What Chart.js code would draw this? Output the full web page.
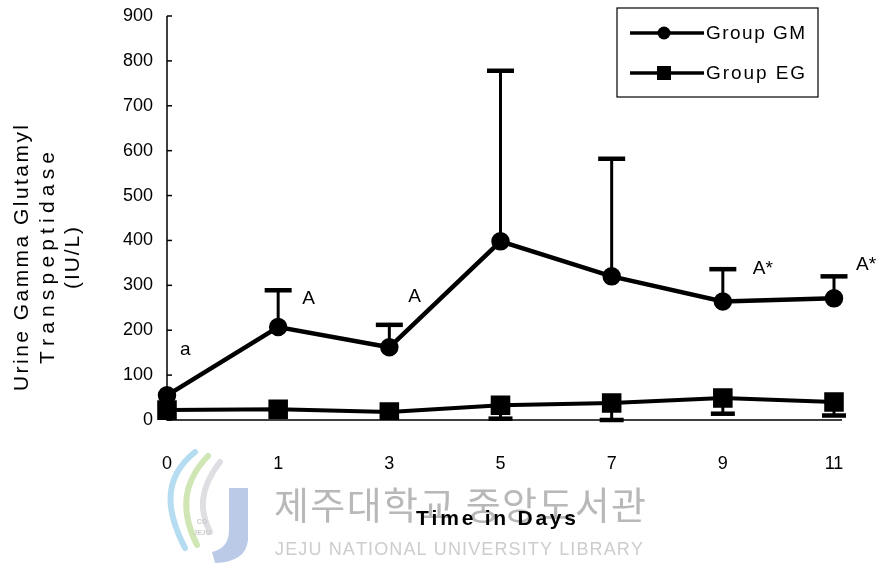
<!DOCTYPE html>
<html>
<head>
<meta charset="utf-8">
<script src="https://cdn.jsdelivr.net/npm/chart.js@4.4.1/dist/chart.umd.min.js"></script>
<style>
  html, body { margin: 0; padding: 0; background: #fff; }
  #wrap { width: 886px; height: 565px; position: relative; }
</style>
</head>
<body>
<div id="wrap"><canvas id="ggtChart"></canvas></div>
<script>
// 資料
const days = ['0', '1', '3', '5', '7', '9', '11'];
const gmMean = [55, 207, 162, 398, 320, 264, 271];
const gmUpper = [null, 289, 212, 778, 582, 336, 320];
const egMean = [22, 24, 18, 33, 38, 49, 40];
const egLower = [null, null, null, 3, 0, 14, 10];
const yTicks = [0, 100, 200, 300, 400, 500, 600, 700, 800, 900];
const sigMarks = ['a', 'A', 'A', '', '', 'A*', 'A*'];

// 標記文字相對於資料點的位移 (px)
const sigOffsets = [[13, -46], [24, 8], [19, -28], [0, 0], [0, 0], [30, 0], [22, -12]];

const FONT = '"Liberation Sans", Arial, sans-serif';

// 逐字繪製，讓文字填滿指定寬度
function spacedText(ctx, text, x, y, width) {
    const chars = text.split('');
    const natural = chars.reduce((s, c) => s + ctx.measureText(c).width, 0);
    const gap = chars.length > 1 ? (width - natural) / (chars.length - 1) : 0;
    let cx = x - width / 2;
    ctx.textAlign = 'left';
    chars.forEach(c => {
        ctx.fillText(c, cx, y);
        cx += ctx.measureText(c).width + gap;
    });
}

// 浮水印
function drawWatermark(ctx) {
    ctx.save();
    // 標誌的曲線
    ctx.lineCap = 'round';
    ctx.lineWidth = 6;
    ctx.strokeStyle = 'rgba(150,205,235,0.7)';
    ctx.beginPath();
    ctx.moveTo(195, 452); ctx.bezierCurveTo(160, 480, 168, 515, 185, 548);
    ctx.stroke();
    ctx.strokeStyle = 'rgba(190,220,150,0.7)';
    ctx.beginPath();
    ctx.moveTo(208, 456); ctx.bezierCurveTo(180, 485, 182, 515, 197, 545);
    ctx.stroke();
    ctx.strokeStyle = 'rgba(215,215,220,0.8)';
    ctx.beginPath();
    ctx.moveTo(220, 462); ctx.bezierCurveTo(198, 490, 200, 512, 210, 532);
    ctx.stroke();
    // J 字
    ctx.fillStyle = 'rgba(170,190,225,0.8)';
    ctx.beginPath();
    ctx.moveTo(229, 488); ctx.lineTo(248, 488); ctx.lineTo(248, 540);
    ctx.quadraticCurveTo(246, 562, 215, 563); ctx.lineTo(212, 552);
    ctx.quadraticCurveTo(229, 548, 229, 530);
    ctx.closePath();
    ctx.fill();
    ctx.fillStyle = 'rgba(200,200,200,0.9)';
    ctx.font = 'bold 7px ' + FONT;
    ctx.textAlign = 'center';
    ctx.fillText('CO', 202, 524);
    ctx.fillText('JEJU', 202, 535);

    ctx.fillStyle = '#b8b8b8';
    ctx.font = '38px "Noto Sans CJK KR", sans-serif';
    ctx.textBaseline = 'middle';
    spacedText(ctx, '제주대학교 중앙도서관', 460, 505, 372);
    ctx.fillStyle = '#cdcdcd';
    ctx.font = '18px ' + FONT;
    spacedText(ctx, 'JEJU NATIONAL UNIVERSITY LIBRARY', 459, 550, 368);
    ctx.restore();
}

const extrasPlugin = {
    id: 'extras',
    beforeDraw(chart) {
        const ctx = chart.ctx;
        ctx.save();
        ctx.fillStyle = '#fff';
        ctx.fillRect(0, 0, chart.width, chart.height);
        ctx.restore();
        drawWatermark(ctx);
    },
    beforeDatasetsDraw(chart) {
        const ctx = chart.ctx;
        const x = chart.scales.x, y = chart.scales.y;
        ctx.save();
        ctx.strokeStyle = '#000';
        ctx.lineCap = 'butt';
        const bar = (i, from, to, capW) => {
            const px = x.getPixelForValue(i);
            ctx.lineWidth = 3;
            ctx.beginPath();
            ctx.moveTo(px, y.getPixelForValue(from));
            ctx.lineTo(px, y.getPixelForValue(to));
            ctx.stroke();
            ctx.lineWidth = 4.5;
            ctx.beginPath();
            ctx.moveTo(px - capW / 2, y.getPixelForValue(to));
            ctx.lineTo(px + capW / 2, y.getPixelForValue(to));
            ctx.stroke();
        };
        gmUpper.forEach((v, i) => { if (v !== null) bar(i, gmMean[i], v, 27); });
        egLower.forEach((v, i) => { if (v !== null) bar(i, egMean[i], v, 24); });
        ctx.restore();
    },
    afterDraw(chart) {
        const ctx = chart.ctx;
        const x = chart.scales.x, y = chart.scales.y;
        const area = chart.chartArea;
        ctx.save();
        ctx.fillStyle = '#000';
        ctx.strokeStyle = '#000';

        // 座標軸
        ctx.lineWidth = 1.5;
        ctx.beginPath();
        ctx.moveTo(area.left, area.top);
        ctx.lineTo(area.left, area.bottom);
        ctx.lineTo(area.right + 8, area.bottom);
        ctx.stroke();
        yTicks.forEach(t => {
            const py = y.getPixelForValue(t);
            ctx.beginPath();
            ctx.moveTo(area.left, py);
            ctx.lineTo(area.left + 5, py);
            ctx.stroke();
        });

        // 顯著性標記
        ctx.font = '19px ' + FONT;
        ctx.textBaseline = 'middle';
        ctx.textAlign = 'left';
        sigMarks.forEach((m, i) => {
            if (!m) return;
            const base = gmUpper[i] !== null ? gmUpper[i] : gmMean[i];
            const px = x.getPixelForValue(i) + sigOffsets[i][0];
            const py = y.getPixelForValue(base) + sigOffsets[i][1];
            ctx.fillText(m, px, py);
        });

        // Y 軸標題
        ctx.font = '21px ' + FONT;
        ctx.save();
        ctx.translate(0, 258);
        ctx.rotate(-Math.PI / 2);
        spacedText(ctx, 'Urine Gamma Glutamyl', 0, 22, 266);
        spacedText(ctx, 'Transpeptidase', 0, 48, 212);
        spacedText(ctx, '(IU/L)', 0, 73, 62);
        ctx.restore();

        // X 軸標題
        ctx.font = 'bold 21px ' + FONT;
        spacedText(ctx, 'Time in Days', 496, 519, 160);

        // 圖例
        const lx = 617, ly = 8, lw = 201, lh = 89;
        ctx.lineWidth = 1.2;
        ctx.strokeRect(lx, ly, lw, lh);
        const rows = [{ y: 33, label: 'Group GM', shape: 'circle' }, { y: 73, label: 'Group EG', shape: 'rect' }];
        rows.forEach(r => {
            ctx.lineWidth = 3.5;
            ctx.beginPath();
            ctx.moveTo(630, r.y);
            ctx.lineTo(704, r.y);
            ctx.stroke();
            ctx.beginPath();
            if (r.shape === 'circle') {
                ctx.arc(664, r.y, 6.5, 0, Math.PI * 2);
            } else {
                ctx.rect(657, r.y - 7, 14, 14);
            }
            ctx.fill();
            ctx.font = '19px ' + FONT;
            ctx.textBaseline = 'middle';
            const w = 99;
            spacedText(ctx, r.label, 706 + w / 2, r.y + 1, w);
        });
        ctx.restore();
    }
};

function initChart() {
    const ctx = document.getElementById('ggtChart').getContext('2d');
    new Chart(ctx, {
        type: 'line',
        data: {
            labels: days,
            datasets: [
                {
                    label: 'Group GM',
                    data: gmMean,
                    borderColor: '#000',
                    backgroundColor: '#000',
                    borderWidth: 4.5,
                    pointStyle: 'circle',
                    pointRadius: 7,
                    tension: 0
                },
                {
                    label: 'Group EG',
                    data: egMean,
                    borderColor: '#000',
                    backgroundColor: '#000',
                    borderWidth: 4,
                    pointStyle: 'rect',
                    pointRadius: 11,
                    tension: 0
                }
            ]
        },
        options: {
            responsive: true,
            maintainAspectRatio: false,
            animation: false,
            layout: { padding: { top: 16, right: 52, left: 0, bottom: 0 } },
            plugins: {
                legend: { display: false },
                tooltip: { enabled: false }
            },
            scales: {
                x: {
                    type: 'category',
                    offset: false,
                    grid: { display: false, drawTicks: false },
                    border: { display: false },
                    ticks: {
                        color: '#000',
                        font: { family: FONT, size: 18 },
                        padding: 33,
                        maxRotation: 0,
                        autoSkip: false
                    },
                    afterFit(scale) { scale.height = 145; }
                },
                y: {
                    min: 0,
                    max: 900,
                    grid: { display: false, drawTicks: false },
                    border: { display: false },
                    ticks: {
                        stepSize: 100,
                        color: '#000',
                        font: { family: FONT, size: 18 },
                        padding: 14
                    },
                    afterFit(scale) {
                        scale.width = 167;
                        scale.paddingTop = 0;
                        scale.paddingBottom = 0;
                    }
                }
            }
        },
        plugins: [extrasPlugin]
    });
}

document.addEventListener('DOMContentLoaded', initChart);
</script>
</body>
</html>
